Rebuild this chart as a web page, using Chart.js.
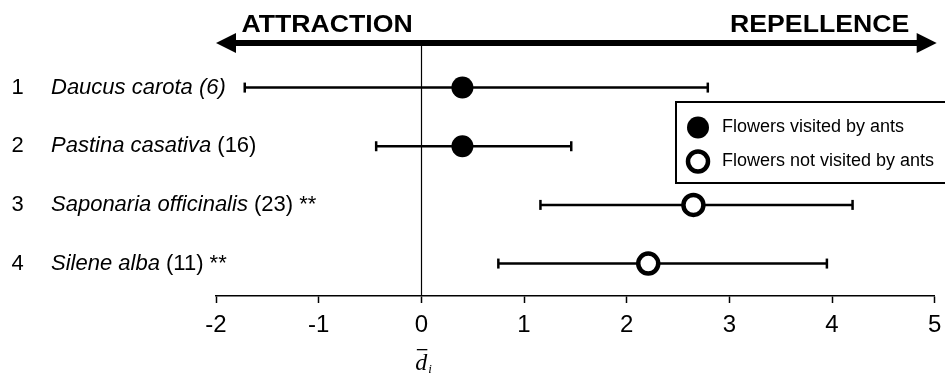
<!DOCTYPE html>
<html>
<head>
<meta charset="utf-8">
<script src="https://cdn.jsdelivr.net/npm/chart.js@4/dist/chart.umd.min.js"></script>
<style>
  html, body { margin: 0; padding: 0; background: #fff; }
  #wrap { width: 945px; height: 374px; position: relative; }
</style>
</head>
<body>
<div id="wrap"><canvas id="c" width="945" height="374"></canvas></div>
<script>
// ---- data ----
const rowNumbers = ['1', '2', '3', '4'];
const speciesNames = ['Daucus carota', 'Pastina casativa', 'Saponaria officinalis', 'Silene alba'];
const sampleSizes = ['(6)', '(16)', '(23)', '(11)'];
const italicSampleSize = [true, false, false, false];
const significance = ['', '', '**', '**'];
const meanValues = [0.40, 0.40, 2.65, 2.21];
const lowerValues = [-1.72, -0.44, 1.16, 0.75];
const upperValues = [2.79, 1.46, 4.20, 3.95];
const visitedByAnts = [true, true, false, false];
const seriesLabels = ['Flowers visited by ants', 'Flowers not visited by ants'];
const tickValues = [-2, -1, 0, 1, 2, 3, 4, 5];
const directionLabels = ['ATTRACTION', 'REPELLENCE'];
const axisTitle = { base: 'd', sub: 'i' };

const SANS = 'Arial, "Liberation Sans", sans-serif';
const SERIF = '"Liberation Serif", "Times New Roman", serif';

// ---- datasets ----
const datasets = [];
for (let i = 0; i < rowNumbers.length; i++) {
  datasets.push({
    type: 'line',
    label: 'err' + i,
    data: [{ x: lowerValues[i], y: i + 1 }, { x: upperValues[i], y: i + 1 }],
    borderColor: '#000',
    borderWidth: 2.5,
    pointStyle: 'line',
    rotation: 90,
    pointRadius: 5,
    pointBorderWidth: 2.5,
    pointBorderColor: '#000',
    pointHoverRadius: 5,
    clip: false,
    order: 2
  });
}
const visitedPts = [], notVisitedPts = [];
meanValues.forEach((v, i) => {
  (visitedByAnts[i] ? visitedPts : notVisitedPts).push({ x: v, y: i + 1 });
});
datasets.push({
  type: 'scatter', label: seriesLabels[0], data: visitedPts,
  pointStyle: 'circle', pointRadius: 11, pointHoverRadius: 11,
  backgroundColor: '#000', borderColor: '#000', borderWidth: 0, clip: false, order: 1
});
datasets.push({
  type: 'scatter', label: seriesLabels[1], data: notVisitedPts,
  pointStyle: 'circle', pointRadius: 10, pointHoverRadius: 10,
  backgroundColor: '#fff', borderColor: '#000', borderWidth: 4.5, clip: false, order: 1
});

// ---- custom drawing plugin ----
const decor = {
  id: 'decor',
  beforeDatasetsDraw(chart) {
    const { ctx, chartArea: a, scales: { x } } = chart;
    ctx.save();
    const x0 = Math.round(x.getPixelForValue(0)) + 0.5;
    ctx.strokeStyle = '#000';
    ctx.lineWidth = 1.2;
    ctx.beginPath();
    ctx.moveTo(x0, a.top);
    ctx.lineTo(x0, a.bottom);
    ctx.stroke();
    ctx.restore();
  },
  afterDraw(chart) {
    const { ctx, chartArea: a, scales: { x, y } } = chart;
    ctx.save();
    // double arrow
    const ay = a.top;
    const left = a.left, right = a.right + 2;
    const headL = 20, headH = 10;
    ctx.fillStyle = '#000';
    ctx.fillRect(left + headL - 1, ay - 3, right - left - 2 * headL + 2, 6);
    ctx.beginPath();
    ctx.moveTo(left, ay); ctx.lineTo(left + headL, ay - headH); ctx.lineTo(left + headL, ay + headH); ctx.closePath(); ctx.fill();
    ctx.beginPath();
    ctx.moveTo(right, ay); ctx.lineTo(right - headL, ay - headH); ctx.lineTo(right - headL, ay + headH); ctx.closePath(); ctx.fill();
    // direction labels (slightly wide bold face)
    ctx.font = 'bold 24px ' + SANS;
    ctx.textBaseline = 'alphabetic';
    const sx = 1.11;
    ctx.save();
    ctx.translate(a.left + 25.5, 32.3);
    ctx.scale(sx, 1);
    ctx.textAlign = 'left';
    ctx.fillText(directionLabels[0], 0, 0);
    ctx.restore();
    ctx.save();
    ctx.translate(a.right - 25.5, 32.3);
    ctx.scale(sx, 1);
    ctx.textAlign = 'right';
    ctx.fillText(directionLabels[1], 0, 0);
    ctx.restore();

    // row labels
    ctx.textBaseline = 'middle';
    for (let i = 0; i < rowNumbers.length; i++) {
      const py = y.getPixelForValue(i + 1);
      ctx.textAlign = 'center';
      ctx.font = '22px ' + SANS;
      ctx.fillText(rowNumbers[i], 17.5, py);
      ctx.textAlign = 'left';
      let px = 51;
      ctx.font = 'italic 22px ' + SANS;
      ctx.fillText(speciesNames[i] + ' ', px, py);
      px += ctx.measureText(speciesNames[i] + ' ').width;
      ctx.font = (italicSampleSize[i] ? 'italic ' : '') + '22px ' + SANS;
      ctx.fillText(sampleSizes[i], px, py);
      px += ctx.measureText(sampleSizes[i]).width;
      if (significance[i]) {
        ctx.font = '22px ' + SANS;
        ctx.fillText(' ' + significance[i], px, py);
      }
    }

    // legend box
    const lx = 676, ly = 102, lh = 81;
    ctx.lineWidth = 2;
    ctx.strokeStyle = '#000';
    ctx.fillStyle = '#fff';
    ctx.fillRect(lx, ly, 300, lh);
    ctx.strokeRect(lx, ly, 300, lh);
    const items = [
      { ds: chart.data.datasets[rowNumbers.length], yy: 127.5 },
      { ds: chart.data.datasets[rowNumbers.length + 1], yy: 161.5 }
    ];
    items.forEach(it => {
      const ds = it.ds;
      ctx.beginPath();
      ctx.arc(698, it.yy, ds.pointRadius, 0, Math.PI * 2);
      ctx.fillStyle = ds.backgroundColor;
      ctx.fill();
      if (ds.borderWidth) {
        ctx.lineWidth = ds.borderWidth;
        ctx.strokeStyle = ds.borderColor;
        ctx.stroke();
      }
      ctx.fillStyle = '#000';
      ctx.font = '18px ' + SANS;
      ctx.textAlign = 'left';
      ctx.textBaseline = 'middle';
      ctx.fillText(ds.label, 722, it.yy);
    });

    // axis title: d-bar with subscript i
    const cx = x.getPixelForValue(0);
    ctx.fillStyle = '#000';
    ctx.font = 'italic 24px ' + SERIF;
    ctx.textAlign = 'center';
    ctx.textBaseline = 'alphabetic';
    ctx.fillText(axisTitle.base, cx, 370);
    ctx.fillRect(cx - 4.5, 349, 10.5, 1.3);
    ctx.font = 'italic 13px ' + SERIF;
    ctx.textAlign = 'left';
    ctx.fillText(axisTitle.sub, cx + 7, 373);
    ctx.restore();
  }
};

new Chart(document.getElementById('c'), {
  type: 'scatter',
  data: { datasets },
  options: {
    responsive: false,
    animation: false,
    events: [],
    layout: { autoPadding: false, padding: { left: 216, top: 43, right: 10.3, bottom: 0 } },
    plugins: { legend: { display: false }, tooltip: { enabled: false } },
    scales: {
      x: {
        type: 'linear', position: 'bottom', min: -2, max: 5,
        afterBuildTicks: s => { s.ticks = tickValues.map(v => ({ value: v })); },
        afterFit: s => { s.height = 78; s.paddingLeft = 0; s.paddingRight = 0; },
        border: { display: true, color: '#000', width: 1.5 },
        grid: { drawOnChartArea: false, drawTicks: true, tickLength: 7, tickColor: '#000', tickWidth: 1.5 },
        ticks: { color: '#000', font: { family: SANS, size: 24 }, padding: 8, maxRotation: 0 }
      },
      y: {
        type: 'linear', display: false, reverse: true, min: 0.24, max: 4.553
      }
    }
  },
  plugins: [decor]
});
</script>
</body>
</html>
